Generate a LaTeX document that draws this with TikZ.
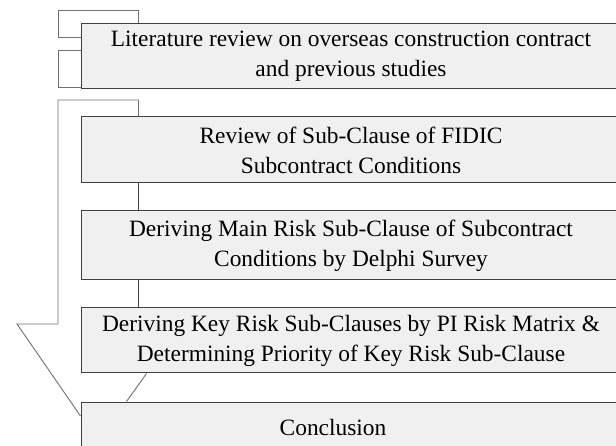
\documentclass[tikz,border=0pt]{standalone}
\usepackage{fontspec}
\setmainfont{Liberation Serif}
\definecolor{boxfill}{RGB}{240,240,240}
\definecolor{boxline}{RGB}{64,64,64}
\definecolor{linkgray}{RGB}{112,112,112}
\usetikzlibrary{positioning}

\begin{document}
\begin{tikzpicture}[x=1pt,y=-1pt,
  stage/.style={draw=boxline,line width=1pt,fill=boxfill,minimum width=540pt,
    inner sep=0pt,align=center,font=\fontsize{23.4}{30}\selectfont},
  link/.style={draw=linkgray,line width=0.9pt},
  flow/.style={draw=boxline,line width=0.9pt}
]
  \useasboundingbox (0,0) rectangle (616,446);

  % stages of the study
  \node[stage,minimum height=65pt] (lit) at (351,56.5)
    {Literature review on overseas construction contract\\and previous studies};
  \node[stage,minimum height=66pt] (fidic) at (351,150)
    {Review of Sub-Clause of FIDIC\\Subcontract Conditions};
  \node[stage,minimum height=69pt] (delphi) at (351,245.5)
    {Deriving Main Risk Sub-Clause of Subcontract\\Conditions by Delphi Survey};
  \node[stage,minimum height=65pt] (matrix) at (351,340.5)
    {Deriving Key Risk Sub-Clauses by PI Risk Matrix \&\\Determining Priority of Key Risk Sub-Clause};
  \node[stage,minimum height=50pt] (concl) at (351,427)
    {\hspace*{-36pt}Conclusion};

  % brackets beside the review
  \draw[link] ([xshift=58pt]lit.north west) -- ++(0,-13) -| (58,37) -- (lit.west |- 0,37);
  \draw[link] (lit.west |- 0,50) -| (58,87) -- (lit.west |- 0,87);

  % outer arrow leading down to the conclusion
  \draw[link] ([xshift=58pt]fidic.north west) |- (58,100) -- (58,324) -- (17,324)
    -- (concl.west |- 0,416);
  \draw[link] ([xshift=66pt]matrix.south west) -- ([xshift=46pt]concl.north west);

  % links between stages
  \draw[flow] ([xshift=58pt]fidic.south west) -- ([xshift=58pt]delphi.north west);
  \draw[flow] ([xshift=58pt]delphi.south west) -- ([xshift=58pt]matrix.north west);
\end{tikzpicture}
\end{document}
